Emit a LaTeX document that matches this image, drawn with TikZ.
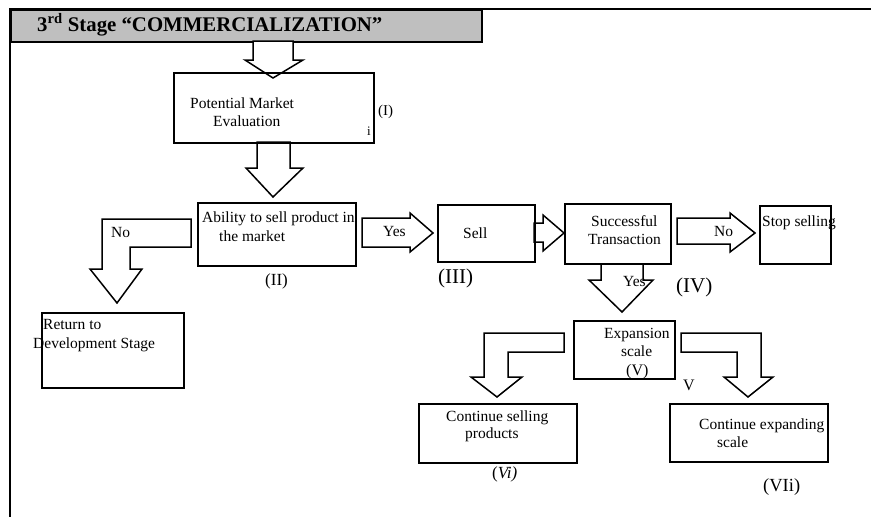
\documentclass[tikz,border=0pt]{standalone}
\usepackage{fontspec}
\setmainfont{Liberation Serif}
\definecolor{hdrgray}{RGB}{191,191,191}
\begin{document}
\begin{tikzpicture}[x=1pt,y=-1pt,
  box/.style={draw, line width=1.5pt, inner sep=0, anchor=north west},
  blk/.style={draw, line width=1.5pt, fill=white, line join=miter},
  txt/.style={inner sep=0, anchor=base west, font=\fontsize{15.5}{18}\selectfont},
  lbl/.style={inner sep=0, anchor=base west, font=\fontsize{17}{20}\selectfont},
  biglbl/.style={inner sep=0, anchor=base west, font=\fontsize{21}{24}\selectfont}]
\useasboundingbox (0,0) rectangle (871,517);
% frame
\coordinate (fbl) at (10,517);
\coordinate (ftl) at (10,9);
\coordinate (ftr) at (871,9);
\draw[line width=2pt] (fbl) -- (ftl) -- (ftr);
% header
\node[box, fill=hdrgray, minimum width=471pt, minimum height=32pt] (hdr) at (10,9) {};
\node[inner sep=0, anchor=base west, font=\fontsize{20.8}{23}\selectfont\bfseries] (title) at (37,31) {3\textsuperscript{rd} Stage “COMMERCIALIZATION”};
% block arrows
\draw[blk] (253,41) -- (293,41) -- (293,60) -- (303,60) -- (273,78) -- (245,60) -- (253,60) -- cycle;
\draw[blk] (257,142) -- (290,142) -- (290,168) -- (303,168) -- (273,197) -- (246,168) -- (257,168) -- cycle;
\draw[blk] (191,219) -- (102,219) -- (102,269) -- (90,269) -- (117,303) -- (142,269) -- (130,269) -- (130,247) -- (191,247) -- cycle;
\draw[blk] (362,218) -- (410,218) -- (410,213) -- (433,233) -- (410,252) -- (410,247) -- (362,247) -- cycle;
\draw[blk] (534,223) -- (543,223) -- (543,215) -- (564,233) -- (543,251) -- (543,242) -- (534,242) -- cycle;
\draw[blk] (677,218) -- (730,218) -- (730,213) -- (755,233) -- (730,252) -- (730,244) -- (677,244) -- cycle;
\draw[blk] (601,264) -- (643,264) -- (643,280) -- (653,280) -- (622,312) -- (589,280) -- (601,280) -- cycle;
\draw[blk] (564,333) -- (484,333) -- (484,377) -- (471,377) -- (497,397) -- (522,377) -- (508,377) -- (508,352) -- (564,352) -- cycle;
\draw[blk] (681,333) -- (761,333) -- (761,377) -- (773,377) -- (748,397) -- (724,377) -- (737,377) -- (737,352) -- (681,352) -- cycle;
% boxes
\node[box, minimum width=200pt, minimum height=70pt] (pme) at (173,72) {};
\node[box, minimum width=158pt, minimum height=63pt] (abl) at (197,202) {};
\node[box, minimum width=142pt, minimum height=75pt] (ret) at (41,312) {};
\node[box, minimum width=97pt, minimum height=57pt] (sell) at (437,204) {};
\node[box, minimum width=106pt, minimum height=60pt] (succ) at (564,203) {};
\node[box, minimum width=71pt, minimum height=58pt] (stop) at (759,205) {};
\node[box, minimum width=101pt, minimum height=58pt] (exp) at (573,320) {};
\node[box, minimum width=158pt, minimum height=59pt] (cs) at (418,403) {};
\node[box, minimum width=158pt, minimum height=58pt] (ce) at (669,403) {};
% texts
\node[txt] (t1a) at (190,108) {Potential Market};
\node[txt] (t1b) at (213,126) {Evaluation};
\node[inner sep=0, anchor=base west, font=\fontsize{15}{18}\selectfont] (l1) at (378,115) {(I)};
\node[inner sep=0, anchor=base west, font=\fontsize{13}{15}\selectfont] (li) at (367,135) {i};
\node[txt] (t2a) at (202,222) {Ability to sell product in};
\node[txt] (t2b) at (219,241) {the market};
\node[lbl] (l2) at (265,285) {(II)};
\node[txt] (tno1) at (111,237) {No};
\node[txt] (t3a) at (43,329) {Return to};
\node[txt] (t3b) at (33,348) {Development Stage};
\node[txt] (tyes1) at (383,236) {Yes};
\node[txt] (t4) at (463,238) {Sell};
\node[biglbl] (l3) at (438,283) {(III)};
\node[txt] (t5a) at (591,226) {Successful};
\node[txt] (t5b) at (588,244) {Transaction};
\node[txt] (tno2) at (714,236) {No};
\node[txt] (t6) at (762,226) {Stop selling};
\node[biglbl] (l4) at (676,292) {(IV)};
\node[txt] (tyes2) at (623,286) {Yes};
\node[txt] (t7a) at (604,338) {Expansion};
\node[txt] (t7b) at (621,356) {scale};
\node[lbl, font=\fontsize{16}{18}\selectfont] (l5) at (626,375) {(V)};
\node[lbl, font=\fontsize{16}{18}\selectfont] (lv) at (683,390) {V};
\node[txt] (t8a) at (446,421) {Continue selling};
\node[txt] (t8b) at (465,438) {products};
\node[lbl] (l6) at (492,478) {(\textit{Vi)}};
\node[txt] (t9a) at (699,429) {Continue expanding};
\node[txt] (t9b) at (717,447) {scale};
\node[lbl, font=\fontsize{18.5}{21}\selectfont] (l7) at (763,491) {(VIi)};
\end{tikzpicture}
\end{document}
